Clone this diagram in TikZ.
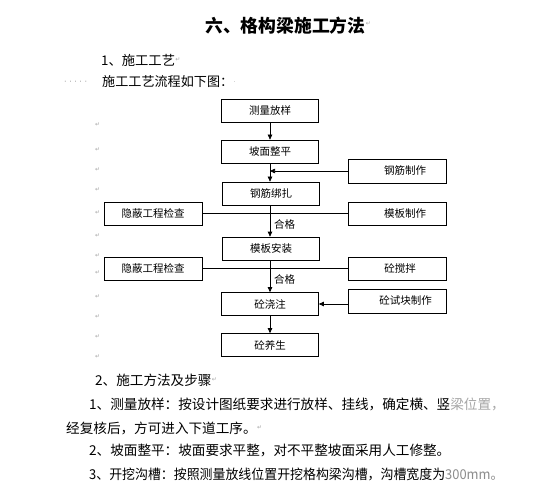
\documentclass[tikz,border=0pt]{standalone}
\usepackage{fontspec}
\setmainfont{Noto Sans CJK SC}
\newfontfamily\symfont{DejaVu Sans}
\usetikzlibrary{arrows.meta}
\begin{document}
\begin{tikzpicture}[x=1pt,y=-1pt,
  box/.style={draw, line width=0.7pt, minimum width=97pt, minimum height=23pt, inner sep=0pt, font=\fontsize{10.5}{12}\selectfont},
  arr/.style={-{Triangle[length=5pt,width=4.5pt]}, line width=0.7pt},
  ln/.style={line width=0.7pt},
  txt/.style={anchor=west, inner sep=0pt, font=\fontsize{13.6}{15}\selectfont},
  lbl/.style={anchor=west, inner sep=0pt, font=\fontsize{10.5}{12}\selectfont},
  rmark/.style={anchor=west, inner sep=0pt, text=black!35, font=\symfont\fontsize{6}{7}\selectfont}]
\useasboundingbox (0,0) rectangle (560,492);
\fill[white] (0,0) rectangle (560,492);

% header texts
\node[anchor=west, inner sep=0pt, font=\bfseries\fontsize{17.8}{19}\selectfont] (title) at (205,26) {六、格构梁施工方法};
\node[rmark] (m0) at ([yshift=2pt]title.east) {↵};
\node[txt, font=\fontsize{13.3}{15}\selectfont] (h1) at (101,60) {1、施工工艺};
\node[rmark] (m1) at (h1.east) {↵};
\node[txt, text=black!40, font=\symfont\fontsize{8}{9}\selectfont] (dots) at (64,83) {· · · · ·};
\node[txt, font=\fontsize{13.1}{15}\selectfont] (h2) at (102,82) {施工工艺流程如下图：};
\node[rmark] (m2) at (h2.east) {.};

% main chain
\node[box] (A) at (270,110.5) {测量放样};
\node[box] (B) at (270,151.5) {坡面整平};
\node[box] (C) at (271,193.5) {钢筋绑扎};
\node[box] (D) at (271,248.5) {模板安装};
\node[box] (E) at (270,304) {砼浇注};
\node[box] (F) at (270,345) {砼养生};

% side boxes
\node[box, minimum width=98pt, minimum height=24pt] (R1) at (397,171) {\hspace{16pt}钢筋制作};
\node[box, minimum width=98pt] (L1) at (153,213.5) {隐蔽工程检查};
\node[box, minimum width=98pt] (R2) at (397,213.5) {\hspace{16pt}模板制作};
\node[box, minimum width=98pt] (L2) at (153,268.5) {隐蔽工程检查};
\node[box, minimum width=98pt] (R3) at (397,268.5) {\hspace{6pt}砼搅拌};
\node[box, minimum width=98pt, minimum height=24pt] (R4) at (397.5,301) {\hspace{16pt}砼试块制作};

% connectors
\draw[arr] (A) -- (B);
\draw[arr] (B) -- (B.south |- C.north);
\coordinate (j1) at (B.south |- R1.west);
\draw[arr] (R1.west) -- (j1);
\draw[arr] (C.south -| B.south) -- (B.south |- D.north);
\draw[ln] (L1.east) -- (R2.west);
\draw[arr] (D.south -| B.south) -- (E.north);
\draw[ln] (L2.east) -- (R3.west);
\draw[arr] (R4.west |- E.east) -- (E.east);
\draw[arr] (E) -- (F);

\node[lbl] (q1) at (274,224) {合格};
\node[lbl] (q2) at (274,279) {合格};

% faint paragraph marks at the left
\foreach \yy [count=\i] in {125,150,170,190,213,236,256,273,297,317,337,357}
  \node[rmark] (pm\i) at (95,\yy) {↵};

% lower texts
\node[txt] (s2) at (95,380) {2、施工方法及步骤};
\node[rmark] (m3) at (s2.east) {↵};
\node[txt] (p1) at (89,404) {1、测量放样：按设计图纸要求进行放样、挂线，确定横、竖\textcolor{black!35}{梁位置，}};
\node[txt] (p1b) at (66,428) {经复核后，方可进入下道工序。};
\node[rmark] (m4) at (p1b.east) {↵};
\node[txt] (p2) at (89,451) {2、坡面整平：坡面要求平整，对不平整坡面采用人工修整。};
\node[txt] (p3) at (89,474) {\scalebox{0.95}[1]{3、开挖沟槽：按照测量放线位置开挖格构梁沟槽，沟槽宽度为\textcolor{black!45}{300mm。}}};
\end{tikzpicture}
\end{document}
